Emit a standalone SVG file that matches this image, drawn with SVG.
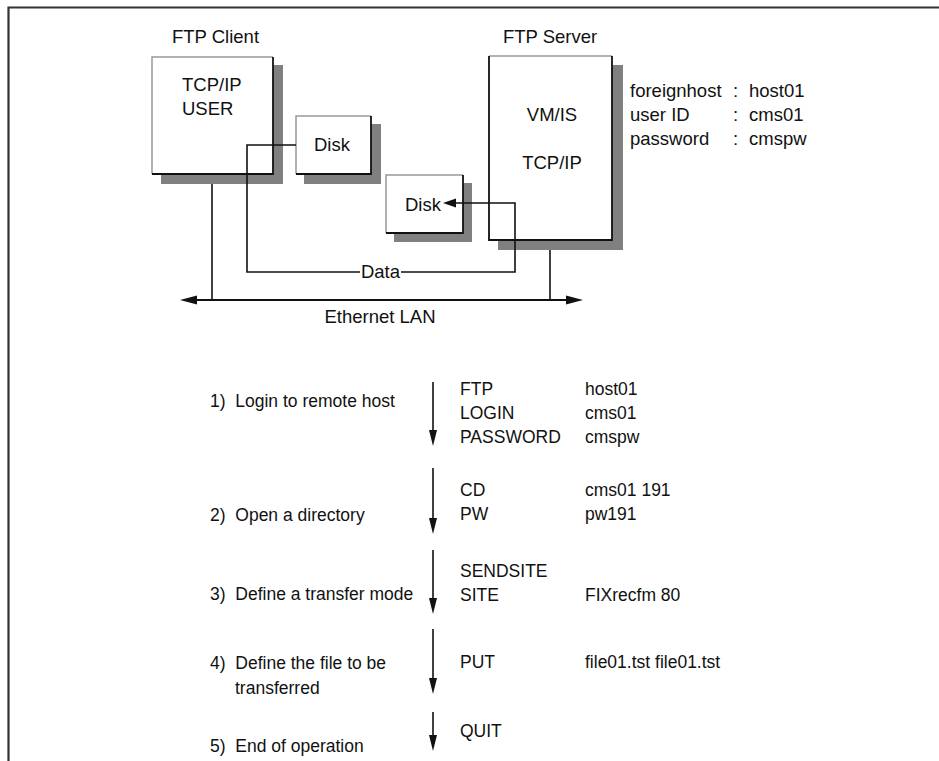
<svg xmlns="http://www.w3.org/2000/svg" width="939" height="761" viewBox="0 0 939 761">
<defs>
<style>
text{font-family:"Liberation Sans",Arial,sans-serif;fill:#111;white-space:pre}
.t{font-size:18.5px}
.b{font-size:17.5px}
.mid{text-anchor:middle}
.sh{fill:#808080}
.bx{fill:#fff}
.lt{fill:none;stroke:#999;stroke-width:1.5}
.dk{fill:none;stroke:#111;stroke-width:1.8}
.ln{fill:none;stroke:#111;stroke-width:1.6}
.ah{fill:#111}
</style>
</defs>
<rect width="939" height="761" fill="#fff"/>
<path d="M8.5,761 V7.5 H939" fill="none" stroke="#333" stroke-width="2.2"/>

<g id="ftp-client">
<text class="t" x="172" y="43">FTP Client</text>
<rect class="sh" x="161" y="65" width="122" height="119"/>
<rect class="bx" x="152" y="57" width="121" height="117"/>
<path class="lt" d="M152,174 V57 H273"/>
<path class="dk" d="M273,57 V174 H152"/>
<text class="t" x="182" y="91">TCP/IP</text>
<text class="t" x="182" y="115">USER</text>
</g>

<g id="disk-client">
<rect class="sh" x="304" y="124" width="77" height="60"/>
<rect class="bx" x="296" y="116" width="75" height="58"/>
<path class="lt" d="M296,174 V116 H371"/>
<path class="dk" d="M371,116 V174 H296"/>
<text class="t" x="314" y="151">Disk</text>
</g>

<g id="disk-server">
<rect class="sh" x="394" y="183" width="78" height="59"/>
<rect class="bx" x="386" y="175" width="77" height="58"/>
<path class="lt" d="M386,233 V175 H463"/>
<path class="dk" d="M463,175 V233 H386"/>
<text class="t" x="405" y="211">Disk</text>
</g>

<g id="ftp-server">
<text class="t" x="503" y="43">FTP Server</text>
<rect class="sh" x="498" y="65" width="125" height="185"/>
<rect class="bx" x="489" y="56" width="123" height="184"/>
<path class="lt" d="M489,56 H612"/>
<path class="dk" d="M489,56 V240 H612 V56"/>
<text class="t mid" x="552" y="121">VM/IS</text>
<text class="t mid" x="552" y="169">TCP/IP</text>
</g>

<g id="server-info">
<text class="t" x="630" y="97">foreignhost</text>
<text class="t" x="733" y="97">:</text>
<text class="t" x="749" y="97">host01</text>
<text class="t" x="630" y="121">user ID</text>
<text class="t" x="733" y="121">:</text>
<text class="t" x="749" y="121">cms01</text>
<text class="t" x="630" y="145">password</text>
<text class="t" x="733" y="145">:</text>
<text class="t" x="749" y="145">cmspw</text>
</g>

<g id="connectors">
<path class="ln" d="M296,145 H247 V272 H360"/>
<path class="ln" d="M401,272 H515 V203 H452"/>
<path class="ah" d="M443,203 L456,198.5 L456,207.5 Z"/>
<text class="t mid" x="380.5" y="278">Data</text>
<path class="ln" d="M212,184 V300"/>
<path class="ln" d="M550,250 V300"/>
<path fill="none" stroke="#111" stroke-width="2" d="M192,300 H571"/>
<path class="ah" d="M180,300 L197,295.5 L197,304.5 Z"/>
<path class="ah" d="M583,300 L566,295.5 L566,304.5 Z"/>
<text class="t mid" x="380" y="323">Ethernet LAN</text>
</g>

<g id="steps">
<path class="ln" d="M433,382 V432"/>
<path class="ah" d="M433,446 L429,430 L437,430 Z"/>
<path class="ln" d="M433,468 V520"/>
<path class="ah" d="M433,534 L429,518 L437,518 Z"/>
<path class="ln" d="M433,550 V600"/>
<path class="ah" d="M433,614 L429,598 L437,598 Z"/>
<path class="ln" d="M433,629 V680"/>
<path class="ah" d="M433,694 L429,678 L437,678 Z"/>
<path class="ln" d="M433,712 V738"/>
<path class="ah" d="M433,751 L429,735 L437,735 Z"/>
</g>

<g id="step-1">
<text class="b" x="210" y="407">1)  Login to remote host</text>
<text class="b" x="460" y="395">FTP</text>
<text class="b" x="585" y="395">host01</text>
<text class="b" x="460" y="419">LOGIN</text>
<text class="b" x="585" y="419">cms01</text>
<text class="b" x="460" y="443">PASSWORD</text>
<text class="b" x="585" y="443">cmspw</text>
</g>
<g id="step-2">
<text class="b" x="210" y="521">2)  Open a directory</text>
<text class="b" x="460" y="496">CD</text>
<text class="b" x="585" y="496">cms01 191</text>
<text class="b" x="460" y="520">PW</text>
<text class="b" x="585" y="520">pw191</text>
</g>
<g id="step-3">
<text class="b" x="210" y="600">3)  Define a transfer mode</text>
<text class="b" x="460" y="577">SENDSITE</text>
<text class="b" x="460" y="601">SITE</text>
<text class="b" x="585" y="601">FIXrecfm 80</text>
</g>
<g id="step-4">
<text class="b" x="210" y="669">4)  Define the file to be</text>
<text class="b" x="235" y="694">transferred</text>
<text class="b" x="460" y="668">PUT</text>
<text class="b" x="585" y="668">file01.tst file01.tst</text>
</g>
<g id="step-5">
<text class="b" x="210" y="752">5)  End of operation</text>
<text class="b" x="460" y="737">QUIT</text>
</g>
</svg>
